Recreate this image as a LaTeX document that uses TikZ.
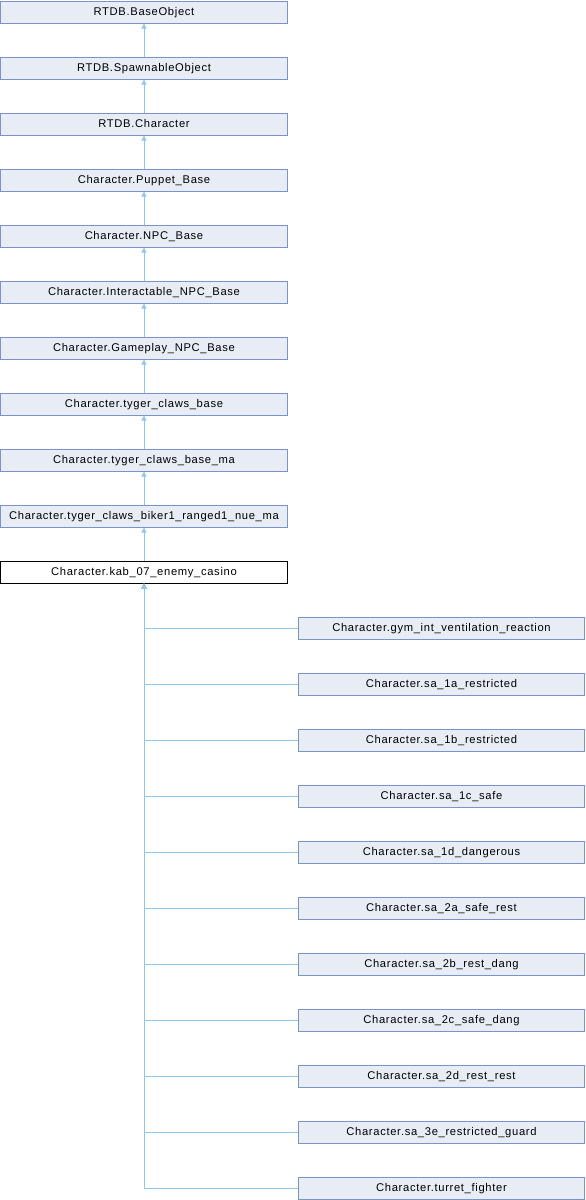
\documentclass[tikz,border=0pt]{standalone}
\usepackage{fontspec}
\setmainfont{Liberation Sans}[LetterSpace=6]
\usetikzlibrary{arrows.meta}
\definecolor{boxfill}{HTML}{E8ECF5}
\definecolor{boxline}{HTML}{7A93C8}
\definecolor{edgecol}{HTML}{90C8EC}
\begin{document}
\begin{tikzpicture}[x=1pt,y=-1pt,
  cls/.style={draw=boxline, fill=boxfill, line width=1pt, minimum height=22pt, inner sep=0pt, text height=6pt, text depth=0pt, font=\fontsize{11.2}{13}\selectfont},
  lbox/.style={cls, minimum width=287pt},
  rbox/.style={cls, minimum width=286pt},
  cur/.style={cls, draw=black, fill=white, minimum width=287pt},
  inh/.style={draw=edgecol, line width=1pt, -{Triangle[width=5pt,length=5pt]}}]
\useasboundingbox (0,0) rectangle (586,1200);
\node[lbox] (n0) at (144,12) {RTDB.BaseObject};
\node[lbox] (n1) at (144,68) {RTDB.SpawnableObject};
\node[lbox] (n2) at (144,124) {RTDB.Character};
\node[lbox] (n3) at (144,180) {Character.Puppet\_Base};
\node[lbox] (n4) at (144,236) {Character.NPC\_Base};
\node[lbox] (n5) at (144,292) {Character.Interactable\_NPC\_Base};
\node[lbox] (n6) at (144,348) {Character.Gameplay\_NPC\_Base};
\node[lbox] (n7) at (144,404) {Character.tyger\_claws\_base};
\node[lbox] (n8) at (144,460) {Character.tyger\_claws\_base\_ma};
\node[lbox] (n9) at (144,516) {Character.tyger\_claws\_biker1\_ranged1\_nue\_ma};
\node[cur] (kab) at (144,572) {Character.kab\_07\_enemy\_casino};
\foreach \a/\b in {n1/n0,n2/n1,n3/n2,n4/n3,n5/n4,n6/n5,n7/n6,n8/n7,n9/n8,kab/n9}
  \draw[inh] (\a.north) -- (\b.south);
\node[rbox] (c0) at (441.5,628) {Character.gym\_int\_ventilation\_reaction};
\node[rbox] (c1) at (441.5,684) {Character.sa\_1a\_restricted};
\node[rbox] (c2) at (441.5,740) {Character.sa\_1b\_restricted};
\node[rbox] (c3) at (441.5,796) {Character.sa\_1c\_safe};
\node[rbox] (c4) at (441.5,852) {Character.sa\_1d\_dangerous};
\node[rbox] (c5) at (441.5,908) {Character.sa\_2a\_safe\_rest};
\node[rbox] (c6) at (441.5,964) {Character.sa\_2b\_rest\_dang};
\node[rbox] (c7) at (441.5,1020) {Character.sa\_2c\_safe\_dang};
\node[rbox] (c8) at (441.5,1076) {Character.sa\_2d\_rest\_rest};
\node[rbox] (c9) at (441.5,1132) {Character.sa\_3e\_restricted\_guard};
\node[rbox] (c10) at (441.5,1188) {Character.turret\_fighter};
\foreach \c in {c0,c1,c2,c3,c4,c5,c6,c7,c8,c9,c10}
  \draw[inh] (\c.west) -| (kab.south);
\end{tikzpicture}
\end{document}
